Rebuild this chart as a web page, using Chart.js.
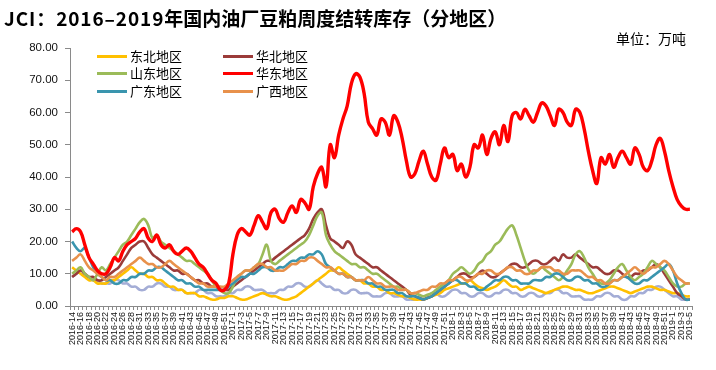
<!DOCTYPE html>
<html>
<head>
<meta charset="utf-8">
<script src="https://cdn.jsdelivr.net/npm/chart.js@4"></script>
<style>
  html,body{margin:0;padding:0;background:#fff;}
  #wrap{position:relative;width:716px;height:370px;overflow:hidden;}
  #c{position:absolute;left:0;top:0;}
  .title{position:absolute;left:4px;top:5px;font-family:"Noto Sans CJK SC","Noto Sans",sans-serif;font-weight:bold;font-size:19px;line-height:26px;color:#000;white-space:nowrap;}
  .title .lat{letter-spacing:0.9px;}
  .unit{position:absolute;right:30px;top:28px;font-family:"Noto Sans CJK SC",sans-serif;font-size:14px;line-height:20px;color:#000;white-space:nowrap;}
  .lg{position:absolute;font-family:"Noto Sans CJK SC",sans-serif;font-size:13px;line-height:16px;color:#000;white-space:nowrap;}
  .sw{position:absolute;height:3px;width:30px;}
</style>
</head>
<body>
<div id="wrap">
  <canvas id="c" width="716" height="370"></canvas>
  <div class="title"><span class="lat">JCI：2016–2019</span>年国内油厂豆粕周度结转库存（分地区）</div>
  <div class="unit">单位：万吨</div>
  <div id="legend"></div>
</div>
<script>
// ---- categories (week labels) ----
function weeks(year, from, to){ const a=[]; for(let w=from; w<=to; w++) a.push(year+'-'+w); return a; }
const categories = [].concat(weeks(2016,14,28), weeks(2016,30,52), weeks(2017,1,52), weeks(2018,1,52), weeks(2019,1,5));

// ---- series (万吨) ----
const dongbei = [
 12,11,10,9,8,8,7,7,7,8,
 8,9,10,11,12,11,10,10,9,9,
 8,8,7,6,6,5,5,4,4,4,
 3,3,2.5,2,2,2.5,2.5,3,3,2.5,
 2,2,2.5,3,3.5,4,3.5,3,3,2.5,
 2,2,2.5,3,4,5,6,7,8,9,
 10,11,11,12,11,10,9,8,8,7,
 7,6,6,5,5,4,4,3.5,3,3,
 2.5,2,2,2,2.5,3,3.5,4,5,5.5,
 6,6.5,7,7,8,7,6,5.5,5,5.5,
 6,7,8,7,6,6,5,5.5,6,5.5,
 5,4.5,4,4.5,5,5.5,6,6,5.5,5,
 5,4.5,4,4,4.5,5,5.5,6,6,5.5,
 5,4.5,4,4.5,5,5.5,6,6,5.5,5,
 5,4.5,4,4,3.5,3,3];
const huabei = [
 9,10,11,10,9,9,8,8,9,10,
 11,12,14,16,18,19,20,20,18,16,
 15,14,13,12,11,11,10,10,9,8,
 8,7,7,6,6,5,5,5,6,7,
 8,9,10,11,12,13,14,14,15,16,
 17,18,19,20,21,22,24,27,29,30,
 25,21,20,19,18,20,19,16,15,14,
 13,12,12,11,10,9,8,7,6,5,
 3.5,3,2.5,2,2.5,3,4,5,6,7,
 8,9,10,10,9,9,10,11,10,9,
 9,10,11,12,13,13,12,12,13,14,
 14,13,13,14,15,14,16,15,15,16,
 15,14,13,12,12,11,10,10,11,11,
 10,9,9,10,10,11,11,12,13,12,
 10,8,6,4,3,2,2];
const shandong = [
 10,11,12,10,9,8,10,12,11,13,
 15,17,19,20,22,24,26,27,25,21,
 22,20,19,18,17,16,15,14,14,13,
 12,11,10,8,6,5,4,4,6,9,
 10,11,11,12,13,16,19,14,13,14,
 15,16,17,18,19,20,22,25,28,29,
 22,19,17,16,15,14,13,13,12,12,
 11,10,10,9,8,7,6,6,5,5,
 4,4,3.5,3,3.5,4,5,6,7,8,
 10,11,12,11,10,11,13,14,16,17,
 19,20,22,24,25,22,18,14,11,10,
 11,12,11,10,9,8,9,11,13,16,
 17,15,12,10,8,7,7,8,10,12,
 13,11,9,8,9,10,12,14,13,12,
 11,9,7,6,6,7,7];
const huadong = [
 23,24,23,19,15,13,11,10,10,12,
 15,14,17,19,20,21,23,24,21,20,
 22,19,18,19,17,16,17,18,17,15,
 13,12,10,8,7,5,5,7,16,22,
 24,23,22,25,28,26,24,29,30,27,
 26,29,31,29,33,32,30,37,41,43,
 37,50,46,53,58,62,69,72,71,66,
 57,55,53,58,57,53,59,57,52,45,
 40,41,45,48,44,40,39,44,49,46,
 47,42,44,40,43,50,49,53,47,52,
 54,50,56,51,59,60,58,61,59,57,
 60,63,62,59,56,61,60,57,56,61,
 60,55,48,42,38,46,44,47,43,46,
 48,46,44,49,47,43,42,45,50,52,
 48,42,37,33,31,30,30];
const guangdong = [
 20,18,17,18,15,12,10,9,8,8,
 7,7,8,8,9,9,10,10,11,11,
 12,12,11,10,9,8,8,7,7,6,
 6,5,5,5,5,5,5,6,7,8,
 9,9,10,10,11,12,12,11,11,12,
 12,13,14,14,15,15,16,16,17,16,
 13,12,11,10,10,9,9,8,8,8,
 7,7,6,6,5,5,5,4,4,3,
 3,3,2.5,2,2.5,3,4,5,6,7,
 8,8,7,7,6,6,5,5,6,7,
 8,8,9,9,8,8,7,7,7,8,
 8,8,9,9,10,10,9,8,8,9,
 9,8,8,7,7,6,6,7,8,8,
 9,9,8,7,7,8,8,9,10,11,
 12,13,11,7,4,2,2];
const guangxi = [
 14,15,16,14,12,11,10,9,8,9,
 9,10,11,12,13,14,15,14,13,13,
 12,12,13,14,13,12,11,10,9,8,
 7,7,6,6,6,6,6,7,8,9,
 10,11,11,12,13,13,12,12,11,11,
 11,12,13,13,14,14,15,15,14,13,
 12,12,11,10,10,9,9,8,8,8,
 9,8,7,7,6,6,6,5,5,5,
 4,4,4.5,5,5,6,6,7,7,8,
 8,9,9,8,8,9,10,10,11,11,
 10,10,11,12,12,11,11,10,10,11,
 11,12,12,12,11,11,10,10,11,11,
 11,10,9,9,8,8,7,7,8,8,
 9,10,11,12,11,10,11,12,12,13,
 14,13,11,9,8,7,7];
const qita = [
 9,10,11,10,9,8,8,7,7,7,
 8,8,7,7,6,6,5,5,6,6,
 7,7,6,6,5,5,5,4,4,4,
 5,5,4,4,3,3,3,4,4,5,
 5,6,6,5,5,5,4,4,4,5,
 5,6,6,7,7,6,6,7,8,7,
 6,6,5,5,4,4,5,5,4,4,
 4,3,3,3,4,4,3,3,3,2,
 2,2,2.5,3,3,4,4,3,3,4,
 5,5,4,4,3,3,4,4,3,3,
 4,4,5,5,4,4,3,3,4,4,
 3,3,4,4,5,5,4,4,3,3,
 3,2,2,2,3,3,4,4,3,3,
 2,2,3,3,4,4,5,5,6,6,
 5,4,3,3,2,2,2];

const seriesNames  = ['东北地区','华北地区','山东地区','华东地区','广东地区','广西地区'];
const seriesColors = ['#FFC000','#9B3B39','#9BBB59','#FF0000','#3A95AE','#E8914B'];
const seriesData   = [dongbei, huabei, shandong, huadong, guangdong, guangxi];
const extraColor = '#A4ADD6';

// legend (2 columns x 3 rows)
const lg = document.getElementById('legend');
seriesNames.forEach((n,i)=>{
  const col = i%2, row = Math.floor(i/2);
  const x = col===0 ? 97 : 223;
  const y = 56 + row*17.5;
  const sw = document.createElement('div');
  sw.className='sw'; sw.style.left=x+'px'; sw.style.top=(y-1.5)+'px'; sw.style.background=seriesColors[i];
  lg.appendChild(sw);
  const t = document.createElement('div');
  t.className='lg'; t.textContent=n; t.style.left=(x+33)+'px'; t.style.top=(y-8.5)+'px';
  lg.appendChild(t);
});

// drawing order: first dataset is top-most
const drawOrder = [3,5,4,2,1,0];
const datasets = drawOrder.map(i=>({
  label: seriesNames[i], data: seriesData[i], borderColor: seriesColors[i],
  borderWidth: i===3 ? 3.4 : 2.6, pointRadius:0, tension:0.4, fill:false
}));
datasets.push({label:'其他', data: qita, borderColor: extraColor, borderWidth:2.6, pointRadius:0, tension:0.4, fill:false});

const bg = {id:'bg', beforeDraw(c){const x=c.ctx; x.save(); x.fillStyle='#fff'; x.fillRect(0,0,c.width,c.height); x.restore();}};

new Chart(document.getElementById('c'), {
  type:'line',
  data:{labels:categories, datasets},
  options:{
    responsive:false, animation:false,
    layout:{padding:{left:0,right:24,top:48,bottom:0}},
    plugins:{legend:{display:false}, title:{display:false}, tooltip:{enabled:false}},
    scales:{
      x:{
        offset:true,
        grid:{display:true, drawOnChartArea:false, offset:true, tickLength:4, color:'#8a8a8a'},
        border:{display:true, color:'#8a8a8a', width:1},
        ticks:{autoSkip:false, minRotation:90, maxRotation:90, padding:2, color:'#111',
               font:{family:'"Liberation Sans", Arial, sans-serif', size:9},
               callback:function(v,i){ return i%2===0 ? this.getLabelForValue(v) : ''; }},
        afterFit(s){ s.height = 64; }
      },
      y:{
        min:0, max:80,
        grid:{display:true, drawOnChartArea:false, tickLength:5, color:'#8a8a8a'},
        border:{display:true, color:'#8a8a8a', width:1},
        ticks:{stepSize:10, padding:7, color:'#111', font:{family:'"Liberation Sans", Arial, sans-serif', size:11.5},
               callback:(v)=>Number(v).toFixed(2)},
        afterFit(s){ s.width = 70; }
      }
    }
  },
  plugins:[bg]
});
</script>
</body>
</html>
